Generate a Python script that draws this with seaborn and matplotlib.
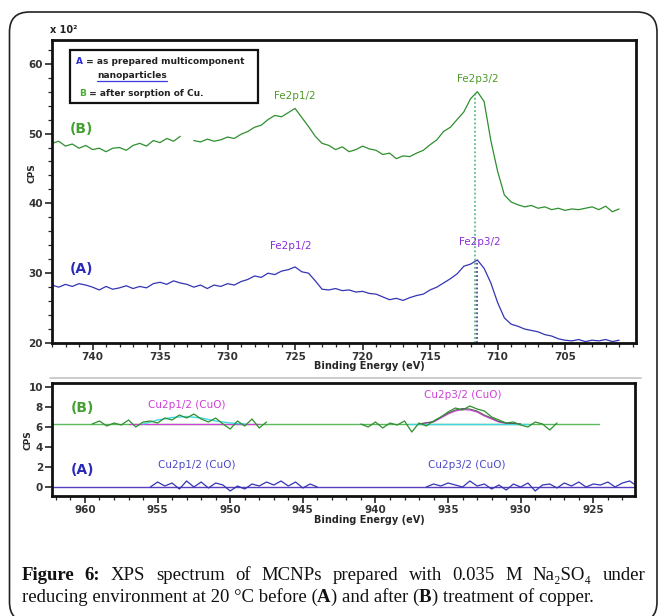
# XPS Fe2p / Cu2p, antes (A) y después (B) de la sorción de cobre
import numpy as np
import pandas as pd
import matplotlib
matplotlib.use("Agg")
import matplotlib.pyplot as plt
import seaborn as sns
from matplotlib.patches import Rectangle, FancyBboxPatch
from matplotlib.lines import Line2D
from matplotlib.ticker import MultipleLocator

sns.set_style("ticks")
plt.rcParams["font.family"] = ["DejaVu Sans"]

# ---- Datos ----
# Panel superior: región Fe2p (CPS x 10^2)
fe_ev = [743.0, 742.5, 742.0, 741.5, 741.0, 740.5, 740.0, 739.5, 739.0, 738.5,
         738.0, 737.5, 737.0, 736.5, 736.0, 735.5, 735.0, 734.5, 734.0, 733.5,
         733.0, 732.5, 732.0, 731.5, 731.0, 730.5, 730.0, 729.5, 729.0, 728.5,
         728.0, 727.5, 727.0, 726.5, 726.0, 725.5, 725.0, 724.5, 724.0, 723.5,
         723.0, 722.5, 722.0, 721.5, 721.0, 720.5, 720.0, 719.5, 719.0, 718.5,
         718.0, 717.5, 717.0, 716.5, 716.0, 715.5, 715.0, 714.5, 714.0, 713.5,
         713.0, 712.5, 712.0, 711.5, 711.0, 710.5, 710.0, 709.5, 709.0, 708.5,
         708.0, 707.5, 707.0, 706.5, 706.0, 705.5, 705.0, 704.5, 704.0, 703.5,
         703.0, 702.5, 702.0, 701.5, 701.0]
fe_b = [48.6, 48.9, 48.2, 48.5, 47.9, 48.3, 47.7, 47.9, 47.4, 47.9,
        48.0, 47.6, 48.3, 48.6, 48.2, 49.0, 48.7, 49.3, 48.9, 49.6,
        np.nan, 49.0, 48.8, 49.2, 48.9, 49.1, 49.5, 49.3, 49.9, 50.3,
        50.9, 51.2, 52.0, 52.6, 52.4, 53.0, 53.6, 52.3, 51.0, 49.6,
        48.6, 48.3, 47.7, 48.1, 47.4, 47.7, 48.2, 47.8, 47.6, 47.0,
        47.2, 46.4, 46.8, 46.7, 47.2, 47.6, 48.4, 49.1, 50.3, 50.9,
        52.0, 53.1, 55.0, 56.0, 54.6, 49.0, 44.6, 41.2, 40.2, 39.8,
        39.5, 39.7, 39.3, 39.5, 39.1, 39.3, 39.0, 39.2, 39.1, 39.3,
        39.5, 39.1, 39.6, 38.8, 39.2]
fe_a = [28.3, 28.0, 28.4, 28.1, 28.5, 28.3, 28.0, 27.6, 28.1, 27.7,
        27.9, 28.2, 27.8, 28.1, 27.9, 28.5, 28.7, 28.4, 28.9, 28.6,
        28.4, 28.0, 28.3, 27.8, 28.3, 28.1, 28.5, 28.3, 28.8, 29.1,
        29.6, 29.4, 30.0, 29.8, 30.3, 30.5, 30.9, 30.2, 30.0, 28.9,
        27.7, 27.6, 27.8, 27.5, 27.6, 27.3, 27.4, 27.1, 27.0, 26.6,
        26.2, 26.4, 26.1, 26.5, 26.8, 27.0, 27.6, 28.0, 28.6, 29.2,
        29.9, 31.0, 31.3, 31.9, 30.7, 28.6, 25.8, 23.6, 22.7, 22.4,
        22.0, 21.8, 21.6, 21.2, 21.0, 20.6, 20.4, 20.3, 20.5, 20.2,
        20.4, 20.3, 20.5, 20.2, 20.4]
# posiciones de los picos Fe2p3/2 (líneas punteadas)
pico_b_ev, pico_b_cps = 711.7, 56.0
pico_a_ev, pico_a_cps = 711.5, 31.9

# Panel inferior: región Cu2p
base_b_ev, base_b_cps = [962.3, 924.6], [6.3, 6.3]
base_a_ev, base_a_cps = [962.3, 922.1], [0.0, 0.0]
cu_b1_ev = [959.5, 959.0, 958.5, 958.0, 957.5, 957.0, 956.5, 956.0, 955.5, 955.0,
            954.5, 954.0, 953.5, 953.0, 952.5, 952.0, 951.5, 951.0, 950.5, 950.0,
            949.5, 949.0, 948.5, 948.0, 947.5]
cu_b1 = [6.3, 6.6, 6.1, 6.4, 6.2, 6.7, 6.0, 6.5, 6.6, 6.4,
         6.9, 6.7, 7.2, 6.9, 7.3, 6.8, 6.5, 6.9, 6.3, 5.8,
         6.6, 6.1, 6.8, 5.9, 6.5]
cu_b2_ev = [941.0, 940.5, 940.0, 939.5, 939.0, 938.5, 938.0, 937.5, 937.0, 936.5,
            936.0, 935.5, 935.0, 934.5, 934.0, 933.5, 933.0, 932.5, 932.0, 931.5,
            931.0, 930.5, 930.0, 929.5, 929.0, 928.5, 928.0, 927.5]
cu_b2 = [6.3, 6.0, 6.5, 5.9, 6.4, 6.2, 6.6, 5.5, 6.4, 6.1,
         6.6, 7.0, 7.5, 7.9, 7.7, 8.1, 7.8, 7.6, 7.0, 6.7,
         6.4, 6.5, 6.2, 6.0, 6.5, 6.3, 5.7, 6.4]
cu_a1_ev = [955.5, 955.0, 954.5, 954.0, 953.5, 953.0, 952.5, 952.0, 951.5, 951.0,
            950.5, 950.0, 949.5, 949.0, 948.5, 948.0, 947.5, 947.0, 946.5, 946.0,
            945.5, 945.0, 944.5, 944.0]
cu_a1 = [0.0, 0.5, 0.1, 0.4, -0.2, 0.6, 0.0, 0.5, -0.1, 0.4,
         0.2, -0.4, 0.1, -0.2, 0.3, 0.1, 0.5, 0.2, 0.6, 0.1,
         0.5, -0.1, 0.3, 0.0]
cu_a2_ev = [936.5, 936.0, 935.5, 935.0, 934.5, 934.0, 933.5, 933.0, 932.5, 932.0,
            931.5, 931.0, 930.5, 930.0, 929.5, 929.0, 928.5, 928.0, 927.5, 927.0,
            926.5, 926.0, 925.5, 925.0, 924.5, 924.0, 923.5, 923.0, 922.5, 922.0]
cu_a2 = [0.0, 0.3, 0.1, 0.4, 0.2, 0.0, 0.6, 0.1, 0.3, -0.2,
         0.2, -0.3, 0.3, 0.0, 0.4, -0.4, 0.2, 0.3, -0.1, 0.4,
         0.1, 0.5, 0.0, 0.3, 0.2, 0.5, 0.0, 0.4, 0.6, 0.1]
# ajustes (fondo y componente CuO)
fit1_env_ev = [956.0, 955.0, 954.0, 953.0, 952.0, 951.0, 950.0, 949.0]
fit1_env = [6.3, 6.7, 6.95, 7.05, 6.9, 6.6, 6.4, 6.3]
fit1_bg_ev, fit1_bg = [957.0, 948.0], [6.3, 6.3]
fit2_bg_ev, fit2_bg = [937.7, 929.5], [6.3, 6.3]
fit2_ev = [937.0, 936.0, 935.5, 935.0, 934.5, 934.0, 933.5, 933.0, 932.5, 932.0, 931.5, 931.0, 930.0]
fit2_pk = [6.3, 6.5, 6.9, 7.3, 7.6, 7.75, 7.7, 7.5, 7.1, 6.8, 6.5, 6.35, 6.3]
fit2_env = [6.3, 6.55, 7.0, 7.4, 7.7, 7.85, 7.8, 7.6, 7.2, 6.9, 6.55, 6.4, 6.3]

top_xticks = [740, 735, 730, 725, 720, 715, 710, 705]
top_yticks = [20, 30, 40, 50, 60]
bot_xticks = [960, 955, 950, 945, 940, 935, 930, 925]
bot_yticks = [0, 2, 4, 6, 8, 10]

VERDE = "#2f8f2f"
AZUL = "#3434b4"
VERDE_TXT = "#4f9a2c"
MORADO = "#8b2fd8"
MAGENTA = "#d040d8"
AZUL_TXT = "#4a4ac8"

W, H = 661, 616
fig = plt.figure(figsize=(W / 100, H / 100), dpi=100)


def fx(px):
    return px / W


def fy(py):
    return 1 - py / H


def tramos(*pares):
    partes = []
    for i, (ev, cps) in enumerate(pares):
        d = pd.DataFrame({"ev": ev, "cps": cps})
        d["seg"] = i * 100 + d["cps"].isna().cumsum()
        partes.append(d.dropna())
    return pd.concat(partes, ignore_index=True)


def linea(ax, d, color, lw=0.9, **kw):
    sns.lineplot(data=d, x="ev", y="cps", units="seg", estimator=None, sort=False,
                 color=color, lw=lw, ax=ax, legend=False, **kw)


def estilo(ax, xt, yt):
    ax.set_xticks(xt)
    ax.set_yticks(yt)
    ax.tick_params(which="major", direction="out", length=5, width=1.2,
                   labelsize=7.5, labelcolor="#333", pad=1.5)
    ax.tick_params(which="minor", direction="out", length=3, width=0.9)
    for lab in ax.get_xticklabels() + ax.get_yticklabels():
        lab.set_fontweight("bold")
    for s in ax.spines.values():
        s.set_visible(True)
        s.set_linewidth(2)
        s.set_color("#111")
    ax.grid(False)


# ---- Panel superior ----
ax1 = fig.add_axes([fx(52), fy(343), fx(636) - fx(52), fy(40) - fy(343)])
linea(ax1, tramos((fe_ev, fe_b)), VERDE)
linea(ax1, tramos((fe_ev, fe_a)), AZUL)
ax1.vlines(pico_b_ev, 20, pico_b_cps, colors="#3cb371", linestyles=(0, (1.2, 1.5)), lw=1.1)
ax1.vlines(pico_a_ev, 20, pico_a_cps, colors="#2a2a80", linestyles=(0, (1.2, 1.5)), lw=1.1)
ax1.set_xlim(743.0, 699.75)
ax1.set_ylim(20, 63.4)
ax1.xaxis.set_minor_locator(MultipleLocator(1))
ax1.yaxis.set_minor_locator(MultipleLocator(2))
estilo(ax1, top_xticks, top_yticks)
ax1.set_xlabel("Binding Energy (eV)", fontsize=7, fontweight="bold")
ax1.xaxis.set_label_coords(0.544, -0.058)
ax1.set_ylabel("CPS", fontsize=6.5, fontweight="bold")
ax1.yaxis.set_label_coords(-0.026, 0.561)

ax1.text(725.0, 55.4, "Fe2p1/2", color=VERDE_TXT, fontsize=7.5, ha="center", va="center")
ax1.text(711.5, 57.8, "Fe2p3/2", color=VERDE_TXT, fontsize=7.5, ha="center", va="center")
ax1.text(725.3, 33.9, "Fe2p1/2", color=MORADO, fontsize=7.5, ha="center", va="center")
ax1.text(711.3, 34.5, "Fe2p3/2", color=MORADO, fontsize=7.5, ha="center", va="center")
ax1.text(740.8, 50.7, "(B)", color="#44a030", fontsize=10, fontweight="bold", ha="center", va="center")
ax1.text(740.8, 30.6, "(A)", color="#2a2ab8", fontsize=10, fontweight="bold", ha="center", va="center")

# cuadro de leyenda
ax1.add_patch(Rectangle((0.031, 0.792), 0.322, 0.175, transform=ax1.transAxes,
                        fill=True, fc="white", ec="#111", lw=1.6, zorder=5))
t = fig.text(fx(76), fy(61), "A", color="#2a2ae0", fontsize=6.5, fontweight="bold", va="center", zorder=6)
ax1.annotate(" = as prepared multicomponent", xy=(1, 0), xycoords=t, annotation_clip=False,
             va="bottom", ha="left", fontsize=6.5, fontweight="bold", color="#222", zorder=6)
nano = fig.text(fx(97), fy(76), "nanoparticles", fontsize=6.5, fontweight="bold", color="#222", va="center")
t3 = fig.text(fx(79), fy(93), "B", color="#44b030", fontsize=6.5, fontweight="bold", va="center")
ax1.annotate(" = after sorption of Cu.", xy=(1, 0), xycoords=t3, annotation_clip=False,
             va="bottom", ha="left", fontsize=6.5, fontweight="bold", color="#222", zorder=6)

fig.text(fx(50), fy(30), "x 10²", fontsize=7, fontweight="bold", color="#222", va="center")

# ---- Panel inferior ----
ax2 = fig.add_axes([fx(52), fy(496), fx(635) - fx(52), fy(383) - fy(496)])
linea(ax2, tramos((base_b_ev, base_b_cps)), "#5cb85c", lw=1.0)
linea(ax2, tramos((base_a_ev, base_a_cps)), "#5a3fc0", lw=1.0)
linea(ax2, tramos((fit1_bg_ev, fit1_bg), (fit2_ev, fit2_pk)), MAGENTA, lw=0.9)
linea(ax2, tramos((fit1_env_ev, fit1_env), (fit2_bg_ev, fit2_bg)), "#40d8e0", lw=1.0)
linea(ax2, tramos((fit2_ev, fit2_env)), "#555555", lw=0.7)
linea(ax2, tramos((cu_b1_ev, cu_b1), (cu_b2_ev, cu_b2)), VERDE)
linea(ax2, tramos((cu_a1_ev, cu_a1), (cu_a2_ev, cu_a2)), AZUL)
ax2.set_xlim(962.27, 922.13)
ax2.set_ylim(-0.9, 10.4)
ax2.xaxis.set_minor_locator(MultipleLocator(1))
estilo(ax2, bot_xticks, bot_yticks)
ax2.set_xlabel("Binding Energy (eV)", fontsize=7, fontweight="bold")
ax2.xaxis.set_label_coords(0.545, -0.165)
ax2.set_ylabel("CPS", fontsize=6.5, fontweight="bold")
ax2.yaxis.set_label_coords(-0.034, 0.496)

ax2.text(960.2, 7.9, "(B)", color="#44a030", fontsize=10, fontweight="bold", ha="center", va="center")
ax2.text(960.2, 1.7, "(A)", color="#2a2ab8", fontsize=10, fontweight="bold", ha="center", va="center")
ax2.text(953.0, 8.2, "Cu2p1/2 (CuO)", color=MAGENTA, fontsize=7.5, ha="center", va="center")
ax2.text(952.3, 2.2, "Cu2p1/2 (CuO)", color=AZUL_TXT, fontsize=7.5, ha="center", va="center")
ax2.text(934.0, 9.2, "Cu2p3/2 (CuO)", color=MAGENTA, fontsize=7.5, ha="center", va="center")
ax2.text(933.7, 2.2, "Cu2p3/2 (CuO)", color=AZUL_TXT, fontsize=7.5, ha="center", va="center")

# marco redondeado y línea de separación
fig.add_artist(FancyBboxPatch((0.095, -0.06), 6.475, 6.10, boxstyle="round,pad=0,rounding_size=0.2",
                              transform=fig.dpi_scale_trans, fill=False, ec="#222", lw=1.2))
fig.add_artist(Line2D([fx(50), fx(641)], [fy(378), fy(378)], transform=fig.transFigure,
                      color="#c8c8c8", lw=1.3))

# ---- Pie de figura ----
serif = ["Liberation Serif", "DejaVu Serif"]
rend = fig.canvas.get_renderer()

# subrayado azul de "nanoparticles"
bb = nano.get_window_extent(rend)
fig.add_artist(Line2D([bb.x0 / W, bb.x1 / W], [(bb.y0 - 0.5) / H] * 2, transform=fig.transFigure,
                      color="#3a3ae0", lw=0.9))

linea1 = [("Figure", "bold"), ("6:", "bold"), ("XPS", "normal"), ("spectrum", "normal"),
          ("of", "normal"), ("MCNPs", "normal"), ("prepared", "normal"), ("with", "normal"),
          ("0.035", "normal"), ("M", "normal"), ("Na₂SO₄", "normal"), ("under", "normal")]
txts = [fig.text(0, fy(580), w, fontsize=13.5, fontweight=p, family=serif, va="baseline", color="#111")
        for w, p in linea1]
anchos = [tt.get_window_extent(rend).width for tt in txts]
hueco = (645 - 21.5 - sum(anchos)) / (len(txts) - 1)
x = 21.5
for tt, a in zip(txts, anchos):
    tt.set_x(fx(x))
    x += a + hueco

linea2 = [("reducing environment at 20 °C before (", "normal"), ("A", "bold"),
          (") and after (", "normal"), ("B", "bold"), (") treatment of copper.", "normal")]
x = 21.5
for w, p in linea2:
    tt = fig.text(fx(x), fy(602), w, fontsize=13.5, fontweight=p, family=serif, va="baseline", color="#111")
    x += tt.get_window_extent(rend).width

fig.savefig("out.png", dpi=100)
